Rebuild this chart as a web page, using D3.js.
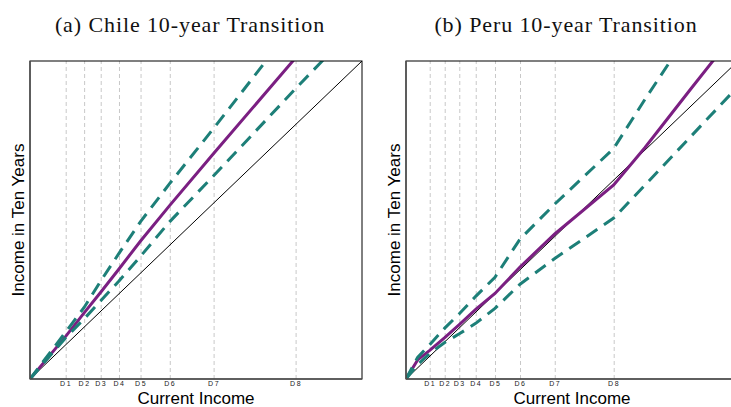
<!DOCTYPE html>
<html>
<head>
<meta charset="utf-8">
<script src="https://cdn.jsdelivr.net/npm/d3@7"></script>
<style>
  html, body { margin: 0; padding: 0; background: #fff; }
  svg { display: block; }
  .title { font-family: "Liberation Serif", "Times New Roman", serif; fill: #111; }
  .axis-title { font-family: "Liberation Sans", Arial, Helvetica, sans-serif; fill: #000; }
  .decile text { font-family: "Liberation Sans", Arial, Helvetica, sans-serif; fill: #222; }
</style>
</head>
<body>
<script>
// Decile cut points of current income (shared label set)
const decileLabels = ["D1", "D2", "D3", "D4", "D5", "D6", "D7", "D8"];

// Chile: current income grid and expected income ten years later
const chileDeciles = [10.75, 16.3, 21.3, 26.8, 33.3, 42.1, 55.3, 80.0];
const chileIncome  = [0, 10.75, 16.3, 21.3, 26.8, 33.3, 42.1, 55.3, 80.0, 100];
const chileMean    = [0, 13.4, 20.8, 27.3, 34.6, 43.4, 54.6, 70.9, 101.0, 126];
const chileUpper   = [0, 14.8, 22.5, 30.8, 39.5, 49.5, 61.5, 78.8, 112, 140];
const chileLower   = [0, 13.0, 18.9, 24.6, 30.8, 38.6, 49.5, 63.9, 91.3, 113];

// Peru: current income grid and expected income ten years later
const peruDeciles = [7.14, 11.66, 16.05, 21.0, 26.8, 34.34, 44.8, 62.56];
const peruIncome  = [0, 3.5, 7.14, 11.66, 16.05, 21.0, 26.8, 34.34, 44.8, 62.56, 72, 86, 100];
const peruMean    = [0, 6.0, 9.0, 13.0, 17.1, 21.9, 26.9, 35.2, 45.6, 61.0, 72.8, 91.5, 110];
const peruUpper   = [0, 6.8, 10.8, 16.0, 20.5, 26.0, 32.0, 44.0, 55.0, 72.5, 88.0, 110, 130];
const peruLower   = [0, 4.5, 8.0, 11.5, 14.2, 17.5, 22.2, 29.8, 37.9, 50.6, 61.0, 76.5, 92.0];

const W = 731, H = 407;
const plotW = 332, plotTop = 61, plotBottom = 379;

const svg = d3.select("body").append("svg")
  .attr("width", W).attr("height", H)
  .attr("viewBox", `0 0 ${W} ${H}`);

const panels = [
  { id: "chile", title: "(a) Chile 10-year Transition", left: 30, titleX: 190,
    deciles: chileDeciles, income: chileIncome,
    mean: chileMean, upper: chileUpper, lower: chileLower },
  { id: "peru", title: "(b) Peru 10-year Transition", left: 406, titleX: 566,
    deciles: peruDeciles, income: peruIncome,
    mean: peruMean, upper: peruUpper, lower: peruLower }
];

panels.forEach(p => {
  const x = d3.scaleLinear().domain([0, 100]).range([p.left, p.left + plotW]);
  const y = d3.scaleLinear().domain([0, 100]).range([plotBottom, plotTop]);
  const g = svg.append("g");

  // clip region for the plotting area
  const clipId = "clip-" + p.id;
  svg.append("clipPath").attr("id", clipId)
    .append("rect")
    .attr("x", p.left).attr("y", plotTop)
    .attr("width", plotW).attr("height", plotBottom - plotTop);

  // panel title
  g.append("text").attr("class", "title")
    .attr("x", p.titleX).attr("y", 31.5)
    .attr("text-anchor", "middle")
    .style("font-size", "22px")
    .style("letter-spacing", "0.9px")
    .text(p.title);

  // decile guide lines and labels
  const axis = d3.axisBottom(x)
    .tickValues(p.deciles)
    .tickFormat((d, i) => decileLabels[i])
    .tickSize(-(plotBottom - plotTop))
    .tickPadding(2.5);
  const ax = g.append("g").attr("class", "decile")
    .attr("transform", `translate(0,${plotBottom})`)
    .call(axis);
  ax.select(".domain").remove();
  ax.selectAll(".tick line")
    .attr("stroke", "#c8c8c8")
    .attr("stroke-width", 1)
    .attr("stroke-dasharray", "4,3");
  ax.selectAll(".tick text")
    .style("font-size", "7px")
    .style("letter-spacing", "1.6px");

  const plot = g.append("g").attr("clip-path", `url(#${clipId})`);

  // 45-degree reference line
  plot.append("line")
    .attr("x1", x(0)).attr("y1", y(0))
    .attr("x2", x(100)).attr("y2", y(100))
    .attr("stroke", "#000").attr("stroke-width", 1);

  const line = d3.line()
    .x(d => x(d[0]))
    .y(d => y(d[1]));

  const series = vals => p.income.map((v, i) => [v, vals[i]]);

  // expected income
  plot.append("path")
    .datum(series(p.mean))
    .attr("d", line)
    .attr("fill", "none")
    .attr("stroke", "#7b1f82")
    .attr("stroke-width", 3);

  // confidence bands
  [p.upper, p.lower].forEach(vals => {
    plot.append("path")
      .datum(series(vals))
      .attr("d", line)
      .attr("fill", "none")
      .attr("stroke", "#1d7f78")
      .attr("stroke-width", 3)
      .attr("stroke-dasharray", "13,8");
  });

  // frame
  g.append("rect")
    .attr("x", p.left).attr("y", plotTop)
    .attr("width", plotW).attr("height", plotBottom - plotTop)
    .attr("fill", "none").attr("stroke", "#000").attr("stroke-width", 1);
  g.append("line")
    .attr("x1", p.left).attr("y1", plotTop)
    .attr("x2", p.left).attr("y2", plotBottom)
    .attr("stroke", "#555").attr("stroke-width", 1.6);
  g.append("line")
    .attr("x1", p.left).attr("y1", plotBottom)
    .attr("x2", p.left + plotW).attr("y2", plotBottom)
    .attr("stroke", "#555").attr("stroke-width", 1.6);

  // axis titles
  g.append("text").attr("class", "axis-title")
    .attr("x", p.left + plotW / 2).attr("y", 403.5)
    .attr("text-anchor", "middle")
    .style("font-size", "17px")
    .text("Current Income");
  g.append("text").attr("class", "axis-title")
    .attr("transform", `translate(${p.left - 6},${(plotTop + plotBottom) / 2}) rotate(-90)`)
    .attr("text-anchor", "middle")
    .style("font-size", "17px")
    .text("Income in Ten Years");
});
</script>
</body>
</html>
